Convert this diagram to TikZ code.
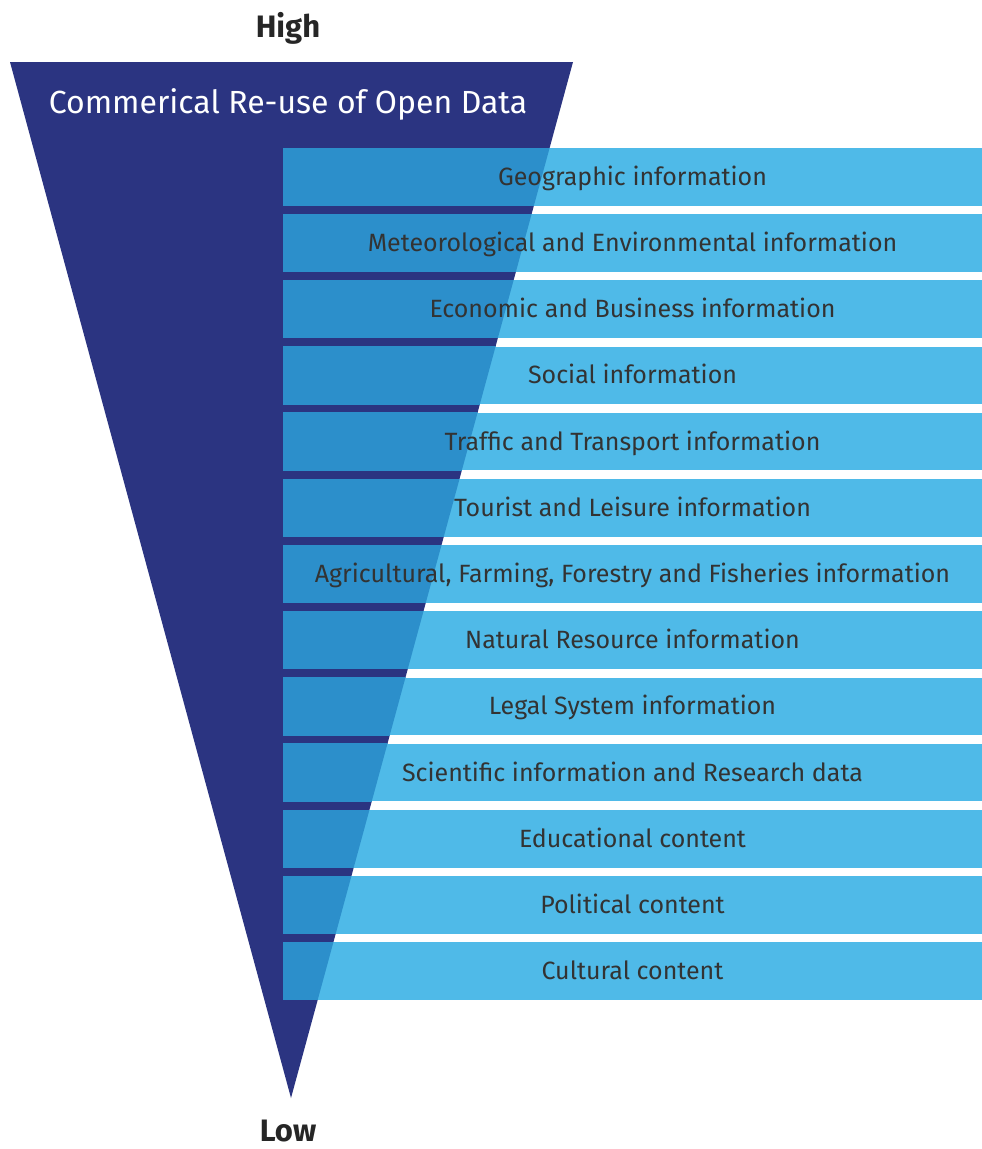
\documentclass[tikz,border=0pt]{standalone}
\usepackage{fontspec}
\setmainfont{Fira Sans}
\usetikzlibrary{positioning}
\definecolor{navy}{HTML}{2B3481}
\definecolor{barblue}{HTML}{4FBAE8}
\definecolor{overlap}{HTML}{2C8FCB}
\definecolor{txtgray}{HTML}{333333}

\begin{document}
\begin{tikzpicture}[x=1pt,y=-1pt,node distance=8.7pt,
    bar/.style={fill=barblue,minimum width=699pt,minimum height=57.5pt,inner sep=0pt,outer sep=0pt,
        text height=17pt,text depth=0pt,text=txtgray,font=\fontsize{25}{28}\selectfont,
        path picture={\fill[overlap] (tl) -- (tr) -- (apex) -- cycle;}},
    level/.style={anchor=base,inner sep=0pt,font=\fontsize{31}{35}\selectfont\bfseries,text=black!85}]

\useasboundingbox[fill=white] (0,0) rectangle (982,1149);

\coordinate (tl)   at (10,62);
\coordinate (tr)   at (573,62);
\coordinate (apex) at (291,1098);
\fill[navy] (tl) -- (tr) -- (apex) -- cycle;

\node[level]                    (high)  at (288,37)   {High};
\node[level]                    (low)   at (288,1141) {Low};
\node[anchor=base,text=white,font=\fontsize{32}{36}\selectfont] (title) at (288,113) {Commerical Re-use of Open Data};

\node[bar,anchor=north west]    (b1)    at (283,148)     {Geographic information};
\node[bar]                      (b2)    [below = of b1]  {Meteorological and Environmental information};
\node[bar]                      (b3)    [below = of b2]  {Economic and Business information};
\node[bar]                      (b4)    [below = of b3]  {Social information};
\node[bar]                      (b5)    [below = of b4]  {Traffic and Transport information};
\node[bar]                      (b6)    [below = of b5]  {Tourist and Leisure information};
\node[bar]                      (b7)    [below = of b6]  {Agricultural, Farming, Forestry and Fisheries information};
\node[bar]                      (b8)    [below = of b7]  {Natural Resource information};
\node[bar]                      (b9)    [below = of b8]  {Legal System information};
\node[bar]                      (b10)   [below = of b9]  {Scientific information and Research data};
\node[bar]                      (b11)   [below = of b10] {Educational content};
\node[bar]                      (b12)   [below = of b11] {Political content};
\node[bar]                      (b13)   [below = of b12] {Cultural content};
\end{tikzpicture}
\end{document}
